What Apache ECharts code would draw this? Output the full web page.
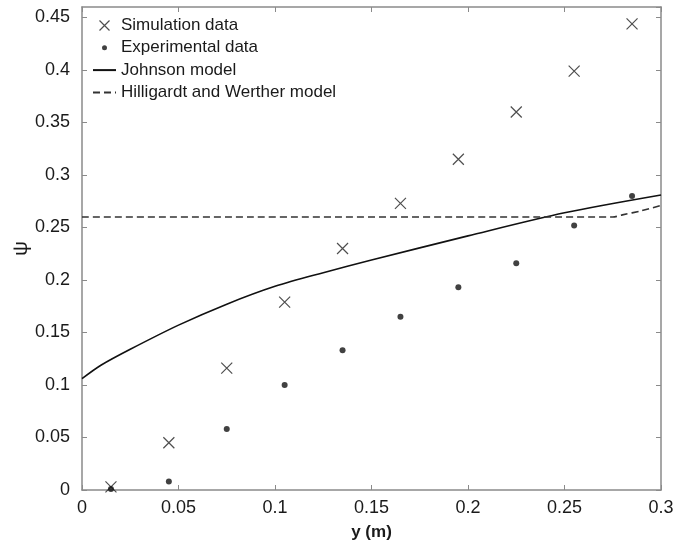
<!DOCTYPE html>
<html>
<head>
<meta charset="utf-8">
<script src="https://cdn.jsdelivr.net/npm/echarts@6/dist/echarts.min.js"></script>
<style>
  html, body { margin: 0; padding: 0; background: #fff; }
  #chart { width: 675px; height: 545px; }
</style>
</head>
<body>
<div id="chart"></div>
<script>
// Measurement positions along the bed height y (m)
const positions = [0.015, 0.045, 0.075, 0.105, 0.135, 0.165, 0.195, 0.225, 0.255, 0.285];
// Simulated psi values
const simulation = [0.003, 0.045, 0.116, 0.179, 0.230, 0.273, 0.315, 0.360, 0.399, 0.444];
// Experimental psi values
const experimental = [0.001, 0.008, 0.058, 0.100, 0.133, 0.165, 0.193, 0.216, 0.252, 0.280];
// Johnson model curve
const johnsonX = [0, 0.01, 0.025, 0.05, 0.075, 0.1, 0.125, 0.15, 0.2, 0.25, 0.3];
const johnsonY = [0.106, 0.119, 0.134, 0.157, 0.177, 0.194, 0.207, 0.219, 0.242, 0.264, 0.281];
// Hilligardt and Werther model curve
const hwX = [0, 0.275, 0.28, 0.29, 0.3];
const hwY = [0.26, 0.26, 0.262, 0.266, 0.271];

const seriesNames = ['Simulation data', 'Experimental data', 'Johnson model', 'Hilligardt and Werther model'];

const pair = (xs, ys) => xs.map((x, i) => [x, ys[i]]);

const axisGray = '#8a8a8a';
const textColor = '#1a1a1a';
const font = 'Liberation Sans, Arial, sans-serif';
const crossPath = 'path://M0,0L10,10M10,0L0,10';
// small dot inside a 10x10 box so the legend keeps it small
const smallDotPath = 'path://M0,0M10,10M7.5,5A2.5,2.5,0,1,1,2.5,5A2.5,2.5,0,1,1,7.5,5Z';

const chart = echarts.init(document.getElementById('chart'), null, { renderer: 'canvas' });

const baseAxis = {
  type: 'value',
  min: 0,
  interval: 0.05,
  axisLine: { show: true, onZero: false, lineStyle: { color: axisGray, width: 1.5 } },
  axisTick: { show: true, inside: true, length: 5, lineStyle: { color: axisGray, width: 1 } },
  splitLine: { show: false }
};

chart.setOption({
  animation: false,
  backgroundColor: '#fff',
  grid: { left: 82, right: 14, top: 7, bottom: 55, containLabel: false, outerBoundsMode: 'none' },
  legend: {
    left: 92,
    top: 17,
    padding: 0,
    orient: 'vertical',
    itemWidth: 23,
    itemHeight: 10,
    itemGap: 5.3,
    align: 'left',
    textStyle: { fontFamily: font, fontSize: 17, color: textColor },
    data: [
      { name: seriesNames[0], icon: crossPath, itemStyle: { color: 'none', borderColor: '#222', borderWidth: 1.2 } },
      { name: seriesNames[1], icon: smallDotPath, itemStyle: { color: '#111' } },
      // line-only icons: the marker drawn on the line sample is hidden
      { name: seriesNames[2], itemStyle: { opacity: 0 } },
      { name: seriesNames[3], itemStyle: { opacity: 0 } }
    ]
  },
  xAxis: [
    Object.assign({}, baseAxis, {
      max: 0.3,
      position: 'bottom',
      name: 'y (m)',
      nameLocation: 'middle',
      nameGap: 34,
      nameMoveOverlap: false,
      nameTextStyle: { fontFamily: font, fontSize: 17, fontWeight: 'bold', color: textColor },
      axisLabel: { fontFamily: font, fontSize: 18, color: textColor, margin: 9 }
    }),
    Object.assign({}, baseAxis, {
      max: 0.3,
      position: 'top',
      axisLabel: { show: false }
    })
  ],
  yAxis: [
    Object.assign({}, baseAxis, {
      max: 0.46,
      position: 'left',
      name: 'ψ',
      nameLocation: 'middle',
      nameRotate: 90,
      nameGap: 50,
      nameMoveOverlap: false,
      nameTextStyle: { fontFamily: font, fontSize: 21, color: textColor },
      axisLabel: { fontFamily: font, fontSize: 18, color: textColor, margin: 12, showMaxLabel: false }
    }),
    Object.assign({}, baseAxis, {
      max: 0.46,
      position: 'right',
      axisLabel: { show: false }
    })
  ],
  series: [
    {
      name: seriesNames[0],
      type: 'scatter',
      symbol: crossPath,
      symbolSize: 11,
      itemStyle: { color: 'none', borderColor: '#222', borderWidth: 1.2 },
      data: pair(positions, simulation),
      z: 4
    },
    {
      name: seriesNames[1],
      type: 'scatter',
      symbol: 'circle',
      symbolSize: 6,
      itemStyle: { color: '#111' },
      data: pair(positions, experimental),
      z: 4
    },
    {
      name: seriesNames[2],
      type: 'line',
      smooth: 0.3,
      showSymbol: false,
      symbol: 'none',
      lineStyle: { color: '#111', width: 1.6 },
      itemStyle: { color: '#111' },
      data: pair(johnsonX, johnsonY),
      z: 3
    },
    {
      name: seriesNames[3],
      type: 'line',
      smooth: 0.3,
      showSymbol: false,
      symbol: 'none',
      lineStyle: { color: '#333', width: 1.6, type: [7, 4] },
      itemStyle: { color: '#333' },
      data: pair(hwX, hwY),
      z: 3
    }
  ]
});
</script>
</body>
</html>
